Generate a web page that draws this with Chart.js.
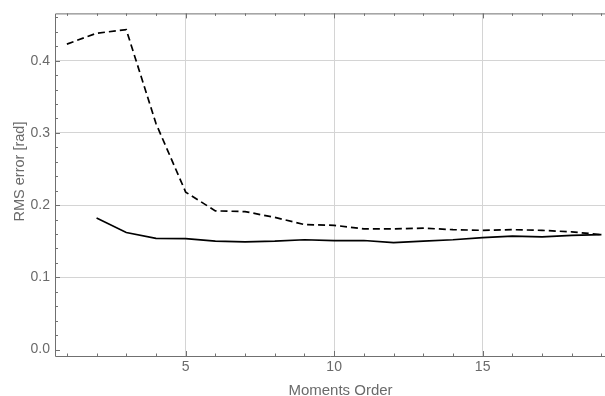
<!DOCTYPE html>
<html>
<head>
<meta charset="utf-8">
<script src="https://cdn.jsdelivr.net/npm/chart.js@4"></script>
<style>
  html, body { margin: 0; padding: 0; background: #fff; }
  #wrap { width: 605px; height: 396px; }
</style>
</head>
<body>
<div id="wrap"><canvas id="rms-chart" width="605" height="396"></canvas></div>
<script>
// Moments order on the x axis
const orders = [1, 2, 3, 4, 5, 6, 7, 8, 9, 10, 11, 12, 13, 14, 15, 16, 17, 18, 19];
// dashed curve (starts at order 1)
const dashedErr = [0.423, 0.438, 0.443, 0.313, 0.218, 0.192, 0.191, 0.183, 0.173, 0.172,
                   0.167, 0.167, 0.168, 0.166, 0.165, 0.166, 0.165, 0.163, 0.159];
// solid curve (starts at order 2)
const solidOrders = [2, 3, 4, 5, 6, 7, 8, 9, 10, 11, 12, 13, 14, 15, 16, 17, 18, 19];
const solidErr = [0.182, 0.162, 0.154, 0.1535, 0.150, 0.149, 0.150, 0.152, 0.1507,
                  0.151, 0.148, 0.150, 0.152, 0.155, 0.157, 0.156, 0.158, 0.159];

const xTicks = [5, 10, 15];
const yTicks = [0.0, 0.1, 0.2, 0.3, 0.4];

const textGray = '#6a6a6a';
const frameGray = '#707070';

// frame, inside ticks (major + minor) and axis titles, Mathematica style
const framePlugin = {
    id: 'frame',
    afterDatasetsDraw(chart) {
        const { ctx, chartArea: a, scales: { x, y } } = chart;
        ctx.save();
        ctx.strokeStyle = frameGray;
        ctx.lineWidth = 1;
        ctx.beginPath();
        ctx.moveTo(a.right + 2, a.top + 0.5);
        ctx.lineTo(a.left + 0.5, a.top + 0.5);
        ctx.lineTo(a.left + 0.5, a.bottom + 0.5);
        ctx.lineTo(a.right + 2, a.bottom + 0.5);
        ctx.stroke();

        ctx.beginPath();
        for (let v = 1; v <= 19; v++) {
            const px = Math.round(x.getPixelForValue(v)) + 0.5;
            const len = v % 5 === 0 ? 5 : 2.5;
            ctx.moveTo(px, a.bottom);
            ctx.lineTo(px, a.bottom - len);
            ctx.moveTo(px, a.top);
            ctx.lineTo(px, a.top + len);
        }
        for (let i = 0; i <= 23; i++) {
            const v = i * 0.02;
            const py = Math.round(y.getPixelForValue(v)) + 0.5;
            const len = i % 5 === 0 ? 5 : 3;
            ctx.moveTo(a.left, py);
            ctx.lineTo(a.left + len, py);
        }
        ctx.stroke();

        ctx.fillStyle = textGray;
        ctx.font = '15px "Liberation Sans", Arial, sans-serif';
        ctx.textAlign = 'center';
        ctx.textBaseline = 'alphabetic';
        ctx.fillText('Moments Order', 340.5, 395);

        ctx.font = '14.5px "Liberation Sans", Arial, sans-serif';
        ctx.translate(23.5, 171.5);
        ctx.rotate(-Math.PI / 2);
        ctx.fillText('RMS error [rad]', 0, 0);
        ctx.restore();
    }
};

new Chart(document.getElementById('rms-chart').getContext('2d'), {
    type: 'line',
    data: {
        datasets: [{
            label: 'dashed',
            data: orders.map((o, i) => ({ x: o, y: dashedErr[i] })),
            borderColor: '#000',
            borderWidth: 1.7,
            borderDash: [7, 4],
            pointRadius: 0,
            tension: 0,
            fill: false
        }, {
            label: 'solid',
            data: solidOrders.map((o, i) => ({ x: o, y: solidErr[i] })),
            borderColor: '#000',
            borderWidth: 1.7,
            pointRadius: 0,
            tension: 0,
            fill: false
        }]
    },
    options: {
        responsive: false,
        animation: false,
        devicePixelRatio: 1,
        layout: { padding: { top: 13, right: 0, left: 0, bottom: 0 } },
        plugins: {
            legend: { display: false },
            tooltip: { enabled: false }
        },
        scales: {
            x: {
                type: 'linear',
                min: 0.6,
                max: 19.12,
                afterBuildTicks: s => { s.ticks = xTicks.map(v => ({ value: v })); },
                afterFit: s => { s.height = 40; },
                border: { display: false },
                grid: { color: '#d4d4d4', lineWidth: 1, drawTicks: false },
                ticks: {
                    color: textGray,
                    padding: 3,
                    maxRotation: 0,
                    font: { family: '"Liberation Sans", Arial, sans-serif', size: 14 }
                }
            },
            y: {
                type: 'linear',
                min: -0.009,
                max: 0.4655,
                afterBuildTicks: s => { s.ticks = yTicks.map(v => ({ value: v })); },
                afterFit: s => { s.width = 55; },
                border: { display: false },
                grid: {
                    color: ctx => (ctx.tick && ctx.tick.value === 0 ? 'rgba(0,0,0,0)' : '#d4d4d4'),
                    lineWidth: 1,
                    drawTicks: false
                },
                ticks: {
                    color: textGray,
                    padding: 5,
                    callback: v => v.toFixed(1),
                    font: { family: '"Liberation Sans", Arial, sans-serif', size: 14 }
                }
            }
        }
    },
    plugins: [framePlugin]
});
</script>
</body>
</html>
